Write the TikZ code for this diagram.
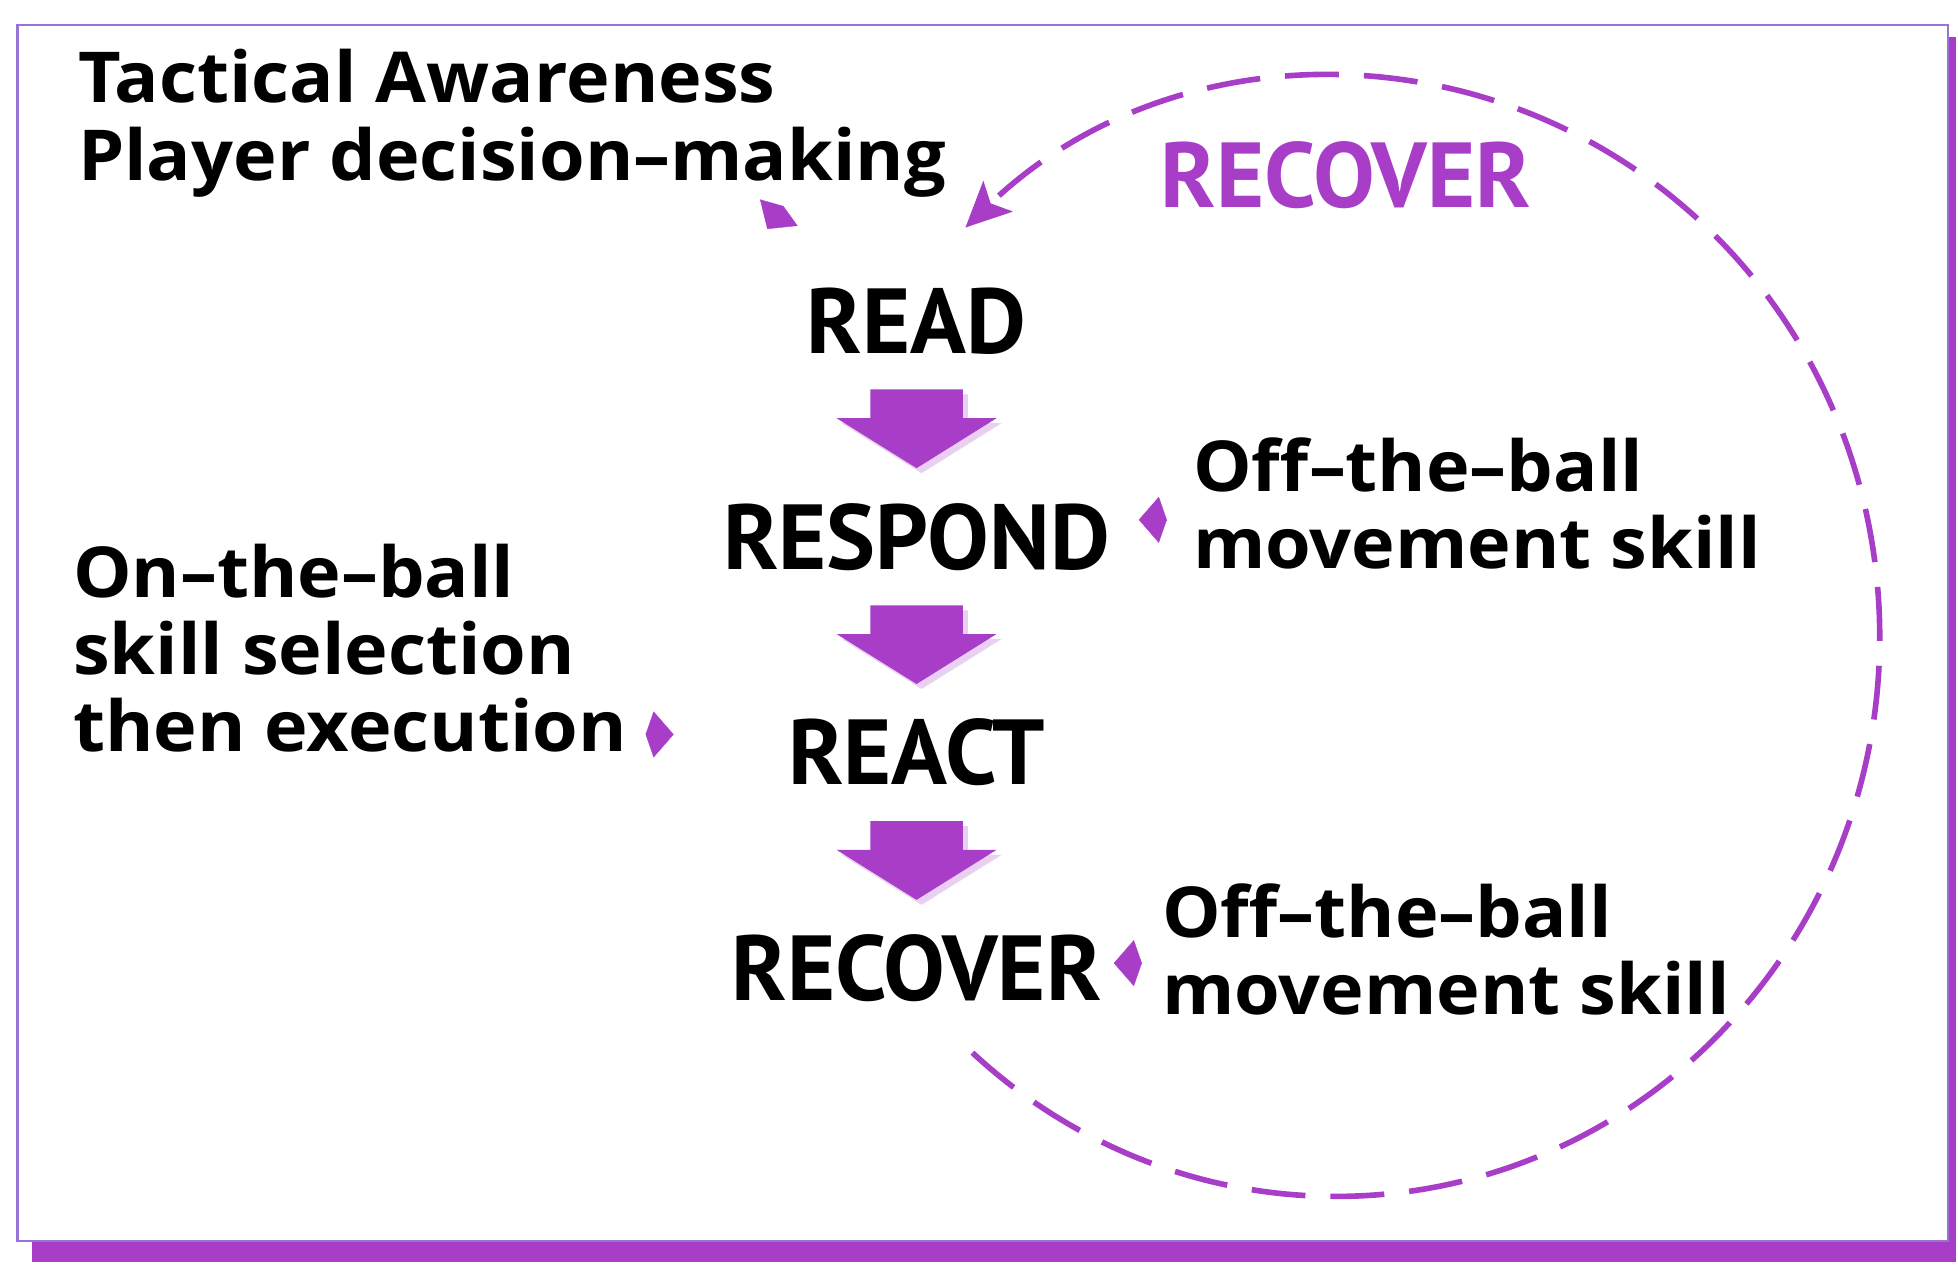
\documentclass[tikz,border=0pt]{standalone}
\usepackage{fontspec}
\setmainfont{PT Sans}
\newfontfamily\notefont[Ligatures=TeX,FakeStretch=1.05]{Open Sans}
\usetikzlibrary{arrows.meta,calc,positioning}

\definecolor{purp}{RGB}{168,62,200}
\definecolor{rim}{RGB}{150,115,215}

\begin{document}
\begin{tikzpicture}[x=0.0125cm,y=0.0125cm,node distance=2.16cm,
  stageword/.style={inner sep=0pt,font=\fontsize{26.3}{30}\selectfont\bfseries},
  sidenote/.style={inner sep=0pt,anchor=north west,align=left,
    font=\notefont\fontsize{20}{22}\selectfont\bfseries},
  smalltip/.style={purp,line width=0.1pt,-{Kite[length=0.28cm,width=0.46cm,inset=0.08cm]}},
  recloop/.style={purp,line width=1.6pt,dash pattern=on 0.54cm off 0.25cm,
    -{Stealth[length=0.45cm,width=0.42cm,inset=0.1cm]}},
  blockarrow/.pic={
    \fill[purp!25,shift={(4,-4)}] (-37,31.5) -- (37,31.5) -- (37,8.5) -- (64,8.5)
      -- (0,-31.5) -- (-64,8.5) -- (-37,8.5) -- cycle;
    \fill[purp] (-37,31.5) -- (37,31.5) -- (37,8.5) -- (64,8.5)
      -- (0,-31.5) -- (-64,8.5) -- (-37,8.5) -- cycle;
  }]

\useasboundingbox (0,0) rectangle (1568,1014);
% frame with purple shadow
\fill[purp] (26,3) rectangle (1566,984);
\filldraw[fill=white,draw=rim,line width=0.6pt] (14,20) rectangle (1560,994);

% the four stages
\node[stageword] (read) at (734,757) {READ};
\node[stageword] (respond) [below of=read] {RESPOND};
\node[stageword] (react) [below of=respond] {REACT};
\node[stageword] (recover) [below of=react] {RECOVER};

\pic at ($(read)!0.5!(respond)$) {blockarrow};
\pic at ($(respond)!0.5!(react)$) {blockarrow};
\pic at ($(react)!0.5!(recover)$) {blockarrow};

% texts round the stages
\node[sidenote] (tactical) at (62,975) {Tactical Awareness\\Player decision--making};
\node[sidenote] (onball) at (58,579) {On--the--ball\\skill selection\\then execution};
\node[sidenote] (offball1) at (955,664) {Off--the--ball\\movement skill};
\node[sidenote] (offball2) at (930,307) {Off--the--ball\\movement skill};
\node[stageword,purp] (reclabel) at (1078,874) {RECOVER};

% small pointers
\draw[smalltip] ([shift={(-108,90)}]read.center) -- ++(-11.5,-16.4);
\draw[smalltip] ([shift={(-23,-13)}]offball1.west) -- ++(-20,0);
\draw[smalltip] ([shift={(-18,-11)}]offball2.west) -- ++(-20,0);
\draw[smalltip] ([shift={(17,15)}]onball.south east) -- ++(20,0);

% recover loop back to read
\coordinate (loopc) at (1070,504);
\draw[recloop] ($(loopc)+(-132:5.44cm and 5.6cm)$)
  arc[start angle=-132,end angle=133,x radius=5.44cm,y radius=5.6cm];

\end{tikzpicture}
\end{document}
